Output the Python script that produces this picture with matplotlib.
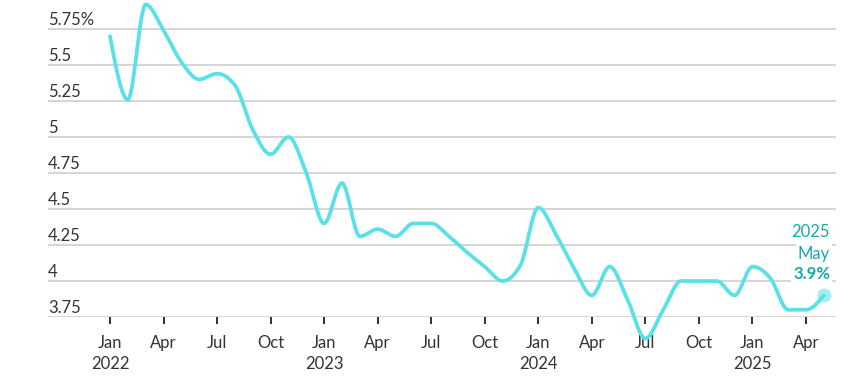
import numpy as np
import matplotlib
matplotlib.use("Agg")
import matplotlib.pyplot as plt
from matplotlib.transforms import blended_transform_factory

# ---- data ----
months = ["Jan", "Feb", "Mar", "Apr", "May", "Jun", "Jul", "Aug", "Sep", "Oct", "Nov", "Dec"]
years = [2022, 2023, 2024, 2025]
values = [
    5.70, 5.26, 5.92, 5.74, 5.52, 5.40, 5.44, 5.36, 5.05, 4.88, 5.00, 4.75,   # 2022
    4.40, 4.68, 4.31, 4.36, 4.31, 4.40, 4.40, 4.31, 4.20, 4.10, 4.00, 4.11,   # 2023
    4.51, 4.32, 4.09, 3.90, 4.10, 3.87, 3.60, 3.80, 4.00, 4.00, 4.00, 3.90,   # 2024
    4.10, 4.02, 3.80, 3.80, 3.90,                                             # 2025
]
ytick_vals = [3.75, 4.0, 4.25, 4.5, 4.75, 5.0, 5.25, 5.5, 5.75]
ytick_labels = ["3.75", "4", "4.25", "4.5", "4.75", "5", "5.25", "5.5", "5.75%"]
xtick_labels = ["Jan\n2022", "Apr", "Jul", "Oct", "Jan\n2023", "Apr", "Jul", "Oct",
                "Jan\n2024", "Apr", "Jul", "Oct", "Jan\n2025", "Apr"]
last_label = ["2025", "May", "3.9%"]

LINE = "#5ae0e8"
TEAL = "#17a7ae"
GRID = "#d2d2d2"
TXT = "#333333"
FS = 12

plt.rcParams['font.family'] = ['Lato', 'DejaVu Sans']

x = np.arange(len(values), dtype=float)
y = np.array(values)

# monotone cubic interpolation (like d3.curveMonotoneX)
def monotone(xs, ys, n=30):
    h = np.diff(xs)
    s = np.diff(ys) / h
    m = np.zeros_like(ys)
    for i in range(1, len(ys) - 1):
        s0, s1 = s[i - 1], s[i]
        h0, h1 = h[i - 1], h[i]
        p = (s0 * h1 + s1 * h0) / (h0 + h1)
        m[i] = (np.sign(s0) + np.sign(s1)) * min(abs(s0), abs(s1), 0.5 * abs(p))
    m[0] = (3 * s[0] - m[1]) / 2
    m[-1] = (3 * s[-1] - m[-2]) / 2
    X, Y = [], []
    for i in range(len(xs) - 1):
        t = np.linspace(0, 1, n, endpoint=False)
        hh = h[i]
        h00 = 2 * t**3 - 3 * t**2 + 1
        h10 = t**3 - 2 * t**2 + t
        h01 = -2 * t**3 + 3 * t**2
        h11 = t**3 - t**2
        X.append(xs[i] + t * hh)
        Y.append(h00 * ys[i] + h10 * hh * m[i] + h01 * ys[i + 1] + h11 * hh * m[i + 1])
    X.append([xs[-1]])
    Y.append([ys[-1]])
    return np.concatenate(X), np.concatenate(Y)

xs, ys = monotone(x, y)

fig = plt.figure(figsize=(8.68, 3.80), dpi=100)
W, H = 868, 380
left, right, bottom, top = 48, 836, 317, 0
ax = fig.add_axes([left / W, (H - bottom) / H, (right - left) / W, (bottom - top) / H])
px_per_month = (806 - 110) / 39
ax.set_xlim(-(110 - left) / px_per_month, (right - 110) / px_per_month)
ax.set_ylim(3.75, 5.75 + 29 / 144)

for s in ax.spines.values():
    s.set_visible(False)
for v in ytick_vals:
    ax.axhline(v, color=GRID, lw=1.3, zorder=1)

ax.plot(xs, ys, color=LINE, lw=2.7, solid_capstyle='round', zorder=3, clip_on=False)
ax.plot([x[-1]], [y[-1]], 'o', ms=10, color=LINE, alpha=0.55, mec='none', zorder=4, clip_on=False)

ax.set_yticks([])
tr = blended_transform_factory(ax.transAxes, ax.transData)
for v, lab in zip(ytick_vals, ytick_labels):
    ax.annotate(lab, xy=(0, v), xycoords=tr, xytext=(0, 3.2), textcoords='offset points',
                ha='left', va='baseline', fontsize=FS, color=TXT)

xtick_pos = np.arange(0, 40, 3)
ax.set_xticks(xtick_pos)
ax.set_xticklabels(xtick_labels, fontsize=FS, color=TXT, linespacing=1.4)
ax.tick_params(axis='x', length=5, width=1.3, color="#222222", pad=8)

# end annotation
bb = dict(boxstyle='square,pad=0.1', fc='white', ec='none')
offs = [(4.5, 46), (4.5, 30), (4.5, 15.5)]
for lab, off, fw in zip(last_label, offs, ['normal', 'normal', 'bold']):
    ax.annotate(lab, xy=(x[-1], y[-1]), xytext=off, textcoords='offset points',
                ha='right', va='center', fontsize=FS, color=TEAL, fontweight=fw,
                bbox=bb, zorder=5)

fig.savefig("out.png", dpi=100)
